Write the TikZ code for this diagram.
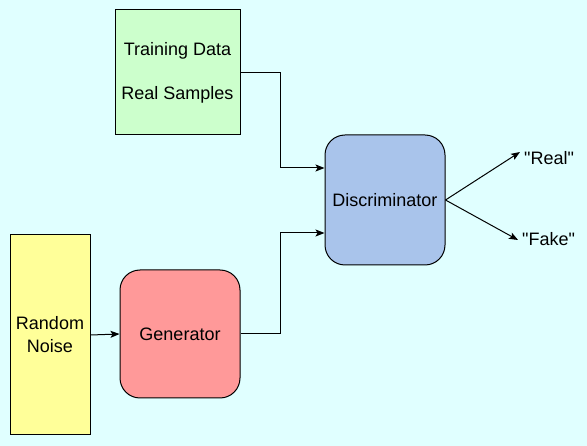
\documentclass[tikz,border=0pt]{standalone}
\usepackage{fontspec}
\setmainfont{Liberation Sans}
\newfontfamily\lsans{Liberation Sans}
\usetikzlibrary{arrows.meta}
\definecolor{bgc}{HTML}{E0FFFF}
\definecolor{trainc}{HTML}{CCFFCC}
\definecolor{noisec}{HTML}{FFFF99}
\definecolor{genc}{HTML}{FF9999}
\definecolor{discc}{HTML}{A9C4EB}
\tikzset{
  box/.style={draw=black, line width=1pt, inner sep=0pt, align=center, font=\lsans\fontsize{18}{23}\selectfont},
  rbox/.style={box, rounded corners=20pt},
  lbl/.style={inner sep=0pt, anchor=west, font=\lsans\fontsize{18}{23}\selectfont},
  conn/.style={line width=1pt, -{Stealth[length=9pt,width=7pt,inset=2pt]}}
}
\begin{document}
\begin{tikzpicture}[x=1pt,y=-1pt]
\fill[bgc] (0,0) rectangle (587,446);
\useasboundingbox (0,0) rectangle (587,446);
\node[box, fill=trainc, minimum width=125pt, minimum height=125pt, font=\lsans\fontsize{18}{44}\selectfont] (train) at (177.5,72.5) {Training Data\\Real Samples};
\node[box, fill=noisec, minimum width=80pt, minimum height=200pt] (noise) at (50,335) {Random\\Noise};
\node[rbox, fill=genc, minimum width=120pt, minimum height=128pt] (gen) at (180,334) {Generator};
\node[rbox, fill=discc, minimum width=120pt, minimum height=130pt] (disc) at (385,200) {Discriminator};
\node[lbl] (real) at (524,158) {"Real"};
\node[lbl] (fake) at (522,239) {"Fake"};
\coordinate (t1) at (280,73);
\coordinate (g1) at (280,334);
\draw[conn] (train.east |- t1) -- (t1) |- (disc.west |- 0,168);
\draw[conn] (gen.east) -- (g1) |- (disc.west |- 0,233);
\draw[conn] (noise.east) -- (gen.west);
\draw[conn] (disc.east) -- ([xshift=-4pt,yshift=6pt]real.west);
\draw[conn] (disc.east) -- ([xshift=-4pt,yshift=-1pt]fake.west);
\end{tikzpicture}
\end{document}
